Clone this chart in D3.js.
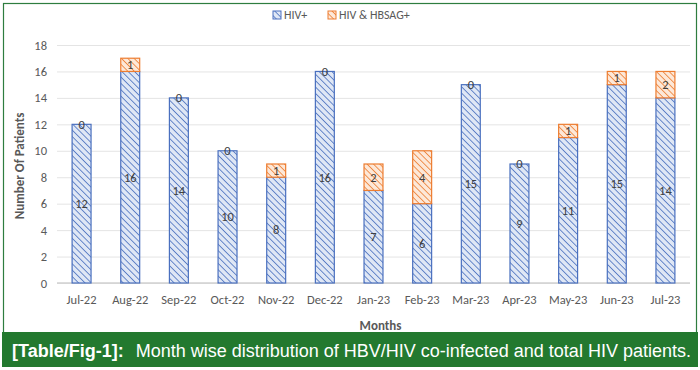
<!DOCTYPE html>
<html>
<head>
<meta charset="utf-8">
<script src="https://cdn.jsdelivr.net/npm/d3@7"></script>
<style>
  body { margin: 0; background: #fff; }
  svg { display: block; }
</style>
</head>
<body>
<svg id="chart"></svg>
<script>
// data
const months = ["Jul-22", "Aug-22", "Sep-22", "Oct-22", "Nov-22", "Dec-22", "Jan-23",
                "Feb-23", "Mar-23", "Apr-23", "May-23", "Jun-23", "Jul-23"];
const hivPos = [12, 16, 14, 10, 8, 16, 7, 6, 15, 9, 11, 15, 14];
const hivHbsag = [0, 1, 0, 0, 1, 0, 2, 4, 0, 0, 1, 1, 2];
const seriesNames = ["HIV+", "HIV & HBSAG+"];
const yTicks = [0, 2, 4, 6, 8, 10, 12, 14, 16, 18];

let width = 700, height = 370;
let margin = {left: 57, right: 10, top: 45, bottom: 87};

let svg = d3.select("#chart")
  .attr("width", width)
  .attr("height", height);

// hatch patterns (lines running top-left to bottom-right)
let defs = svg.append("defs");
function hatch(id, bg, line) {
  let p = defs.append("pattern")
    .attr("id", id)
    .attr("patternUnits", "userSpaceOnUse")
    .attr("width", 4.5)
    .attr("height", 4.5)
    .attr("patternTransform", "rotate(45)");
  p.append("rect").attr("width", 4.5).attr("height", 4.5).attr("fill", bg);
  p.append("line").attr("x1", 0).attr("y1", 0).attr("x2", 4.5).attr("y2", 0)
    .attr("stroke", line).attr("stroke-width", 1.6);
}
hatch("hatchBlue", "#dfe7f5", "#4a70bf");
hatch("hatchOrange", "#fde8d8", "#ed7d31");

// outer frame
svg.append("rect")
  .attr("x", 3.5).attr("y", 3.5)
  .attr("width", 693).attr("height", 340)
  .attr("fill", "none")
  .attr("stroke", "#2e7d3f")
  .attr("stroke-width", 1.2);

let x = d3.scaleBand()
  .domain(months)
  .range([margin.left, width - margin.right])
  .paddingInner(0.59)
  .paddingOuter(0.3);

let y = d3.scaleLinear()
  .domain([0, 18])
  .range([height - margin.bottom, margin.top]);

let labelFont = "Calibri, Carlito, 'Open Sans', sans-serif";

// y grid + labels
let gy = svg.append("g")
  .attr("transform", `translate(${margin.left}, 0)`)
  .call(d3.axisLeft(y).tickValues(yTicks).tickSize(-(width - margin.left - margin.right)).tickPadding(10));
gy.select(".domain").remove();
gy.selectAll(".tick line").attr("stroke", "#e4e4e4").attr("stroke-width", 1);
gy.selectAll(".tick text")
  .attr("fill", "#595959")
  .style("font-family", labelFont)
  .style("font-size", "12.5px");

// x axis
let gx = svg.append("g")
  .attr("transform", `translate(0, ${y(0)})`)
  .call(d3.axisBottom(x).tickSize(0).tickPadding(12));
gx.select(".domain").attr("stroke", "#d0d0d0").attr("stroke-width", 1.5)
  .attr("d", `M${margin.left},0H${width - margin.right}`);
gx.selectAll(".tick text")
  .attr("fill", "#595959")
  .style("font-family", labelFont)
  .style("font-size", "12.5px");

let rows = months.map((m, i) => ({month: m, a: hivPos[i], b: hivHbsag[i]}));

// HIV+ bars
svg.selectAll(".barA")
  .data(rows)
  .enter()
  .append("rect")
  .attr("class", "barA")
  .attr("x", d => x(d.month) + 0.5)
  .attr("y", d => y(d.a))
  .attr("width", x.bandwidth() - 1)
  .attr("height", d => y(0) - y(d.a))
  .attr("fill", "url(#hatchBlue)")
  .attr("stroke", "#4a70bf")
  .attr("stroke-width", 1.2);

// HIV & HBSAG+ bars
svg.selectAll(".barB")
  .data(rows.filter(d => d.b > 0))
  .enter()
  .append("rect")
  .attr("class", "barB")
  .attr("x", d => x(d.month) + 0.5)
  .attr("y", d => y(d.a + d.b))
  .attr("width", x.bandwidth() - 1)
  .attr("height", d => y(d.a) - y(d.a + d.b))
  .attr("fill", "url(#hatchOrange)")
  .attr("stroke", "#ed7d31")
  .attr("stroke-width", 1.2);

// data labels
svg.selectAll(".labA")
  .data(rows)
  .enter()
  .append("text")
  .attr("x", d => x(d.month) + x.bandwidth() / 2)
  .attr("y", d => y(d.a / 2))
  .attr("dy", "0.35em")
  .attr("text-anchor", "middle")
  .attr("fill", "#404040")
  .style("font-family", labelFont)
  .style("font-size", "12.5px")
  .text(d => d.a);

svg.selectAll(".labB")
  .data(rows)
  .enter()
  .append("text")
  .attr("x", d => x(d.month) + x.bandwidth() / 2)
  .attr("y", d => y(d.a + d.b / 2))
  .attr("dy", "0.35em")
  .attr("text-anchor", "middle")
  .attr("fill", "#404040")
  .style("font-family", labelFont)
  .style("font-size", "12.5px")
  .text(d => d.b);

// axis titles
svg.append("text")
  .attr("transform", `translate(19, ${(y(0) + y(18)) / 2 + 2}) rotate(-90)`)
  .attr("text-anchor", "middle")
  .attr("dy", "0.35em")
  .attr("fill", "#595959")
  .style("font-family", labelFont)
  .style("font-size", "13px")
  .style("font-weight", "bold")
  .text("Number Of Patients");

svg.append("text")
  .attr("x", (margin.left + width - margin.right) / 2 + 7)
  .attr("y", 325)
  .attr("dy", "0.35em")
  .attr("text-anchor", "middle")
  .attr("fill", "#595959")
  .style("font-family", labelFont)
  .style("font-size", "13px")
  .style("font-weight", "bold")
  .text("Months");

// legend
let legend = svg.append("g").attr("transform", "translate(273, 15)");
let legX = [0, 55];
let legFill = ["url(#hatchBlue)", "url(#hatchOrange)"];
let legStroke = ["#4a70bf", "#ed7d31"];
seriesNames.forEach((name, i) => {
  legend.append("rect")
    .attr("x", legX[i]).attr("y", -4)
    .attr("width", 8).attr("height", 8)
    .attr("fill", legFill[i])
    .attr("stroke", legStroke[i]);
  legend.append("text")
    .attr("x", legX[i] + 11).attr("y", 0)
    .attr("dy", "0.35em")
    .attr("fill", "#595959")
    .style("font-family", labelFont)
    .style("font-size", "12px")
    .text(name);
});

// caption band
svg.append("rect")
  .attr("x", 2).attr("y", 332)
  .attr("width", 696).attr("height", 35)
  .attr("fill", "#23792f");

let cap = svg.append("text")
  .attr("x", 12).attr("y", 357)
  .attr("fill", "#ffffff")
  .style("font-family", "Liberation Sans, Arial, sans-serif")
  .style("font-size", "18px");
cap.append("tspan").style("font-weight", "bold").text("[Table/Fig-1]:");
cap.append("tspan").attr("dx", 12).text("Month wise distribution of HBV/HIV co-infected and total HIV patients.");
</script>
</body>
</html>
